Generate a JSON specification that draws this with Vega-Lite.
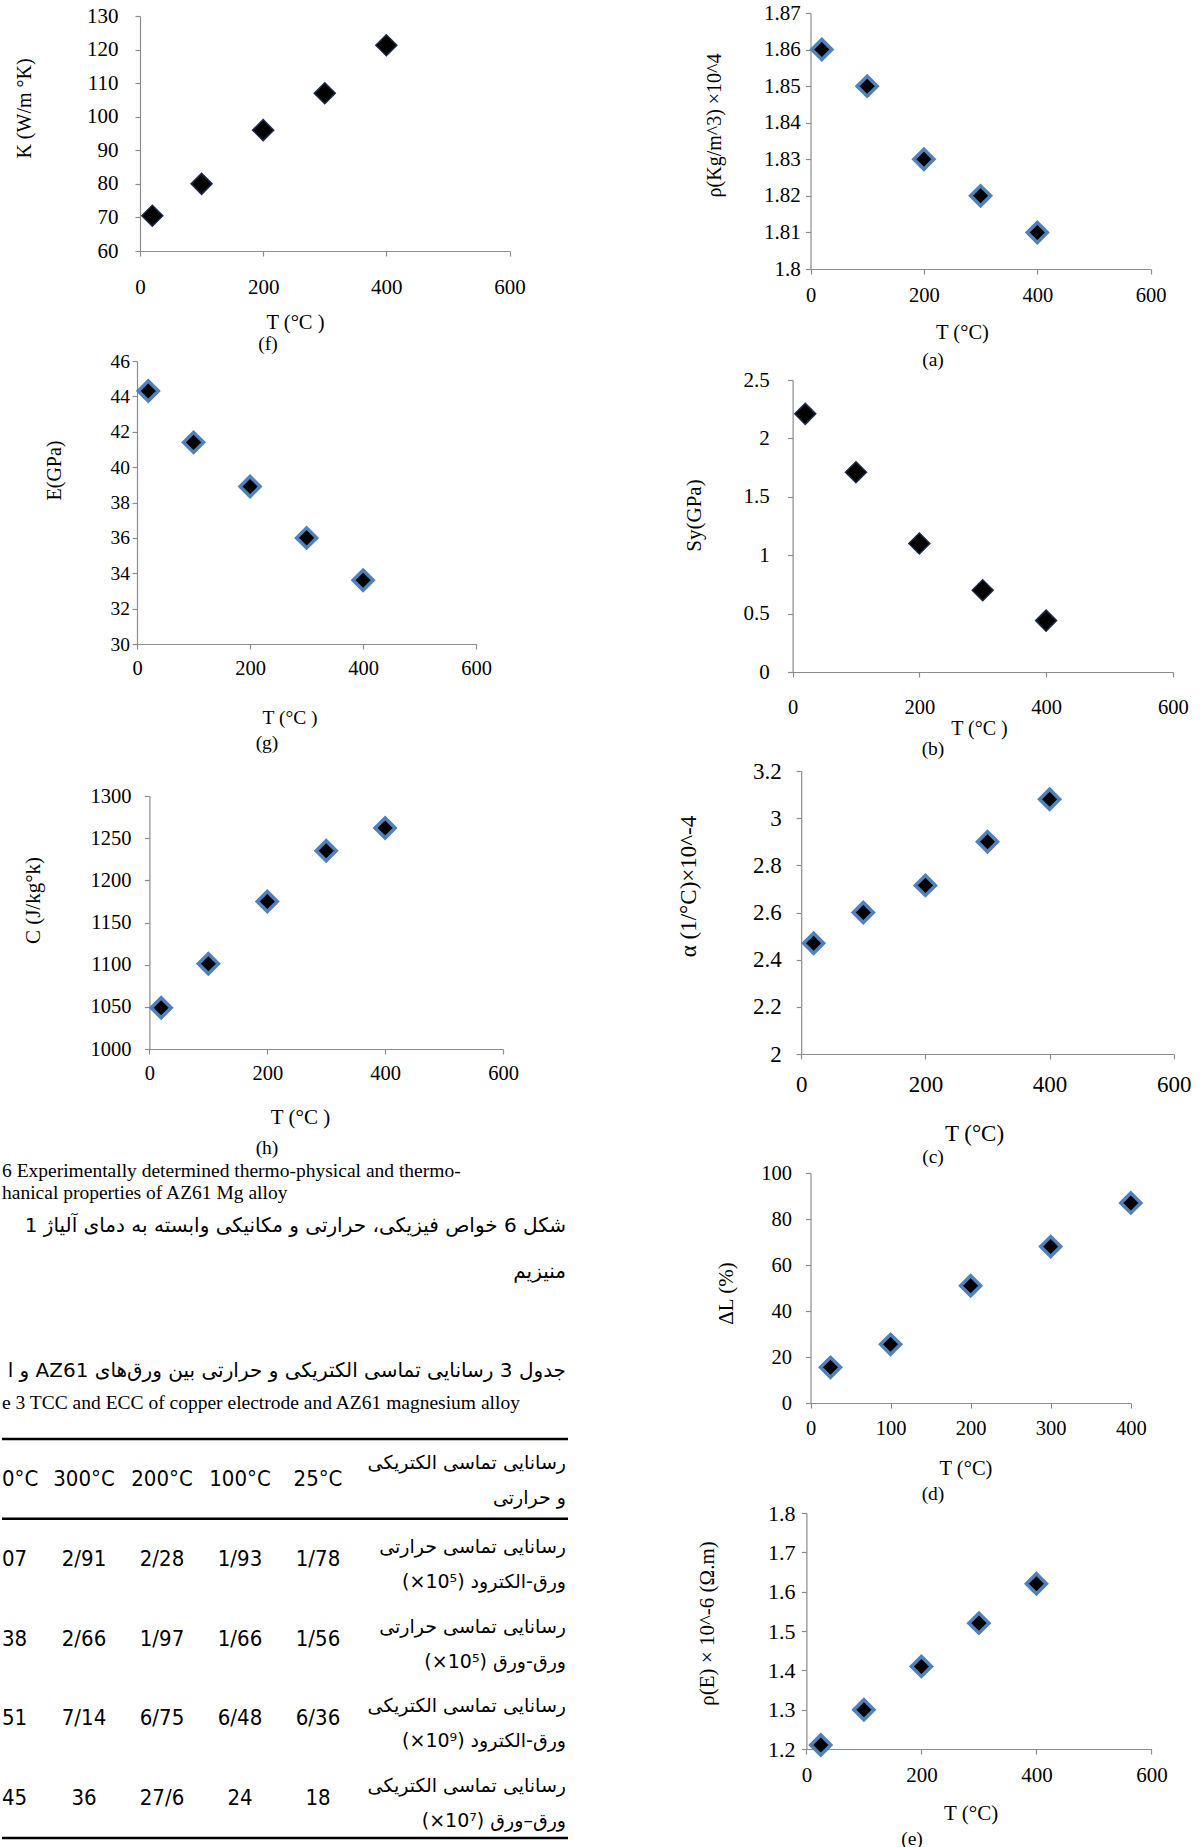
{
"$schema": "https://vega.github.io/schema/vega-lite/v6.json",
"background": "white",
"padding": 0,
"config": {
 "view": {"stroke": null},
 "font": "Liberation Serif",
 "axis": {"grid": false, "domainColor": "#8c8c8c", "tickColor": "#8c8c8c", "domainWidth": 1.2, "tickWidth": 1.2, "tickSize": 5, "labelColor": "#000", "titleColor": "#000", "labelFont": "Liberation Serif", "titleFont": "Liberation Serif", "titleFontWeight": "normal", "labelFlush": false, "labelOverlap": false, "labelBound": false},
 "title": {"font": "Liberation Serif", "fontWeight": "normal", "fontSize": 19.5, "color": "#000"}
},
"datasets": {
 "f": [{"T": 20, "value": 70.5}, {"T": 100, "value": 80}, {"T": 200, "value": 96}, {"T": 300, "value": 107}, {"T": 400, "value": 121.3}],
 "a": [{"T": 20, "value": 1.86}, {"T": 100, "value": 1.85}, {"T": 200, "value": 1.83}, {"T": 300, "value": 1.82}, {"T": 400, "value": 1.81}],
 "g": [{"T": 20, "value": 44.3}, {"T": 100, "value": 41.4}, {"T": 200, "value": 38.9}, {"T": 300, "value": 36.0}, {"T": 400, "value": 33.6}],
 "h": [{"T": 20, "value": 1049}, {"T": 100, "value": 1101}, {"T": 200, "value": 1175}, {"T": 300, "value": 1235}, {"T": 400, "value": 1262}],
 "b": [{"T": 20, "value": 2.21}, {"T": 100, "value": 1.71}, {"T": 200, "value": 1.1}, {"T": 300, "value": 0.7}, {"T": 400, "value": 0.44}],
 "c": [{"T": 20, "value": 2.47}, {"T": 100, "value": 2.6}, {"T": 200, "value": 2.715}, {"T": 300, "value": 2.9}, {"T": 400, "value": 3.08}],
 "d": [{"T": 25, "value": 15.5}, {"T": 100, "value": 25.5}, {"T": 200, "value": 51}, {"T": 300, "value": 68}, {"T": 400, "value": 87}],
 "e": [{"T": 25, "value": 1.21}, {"T": 100, "value": 1.30}, {"T": 200, "value": 1.41}, {"T": 300, "value": 1.52}, {"T": 400, "value": 1.62}],
 "captions": [
  {"lang": "en", "line": 1, "text": "6 Experimentally determined thermo-physical and thermo-"},
  {"lang": "en", "line": 2, "text": "hanical properties of AZ61 Mg alloy"},
  {"lang": "fa", "line": 3, "text": "\u202bشکل 6 خواص فیزیکی، حرارتی و مکانیکی وابسته به دمای آلیاژ 1\u202c"},
  {"lang": "fa", "line": 4, "text": "\u202bمنیزیم\u202c"},
  {"lang": "fa", "line": 5, "text": "\u202bجدول 3 رسانایی تماسی الکتریکی و حرارتی بین ورق‌های AZ61 و الکت\u202c"},
  {"lang": "en", "line": 6, "text": "e 3 TCC and ECC of copper electrode and AZ61 magnesium alloy"}
 ],
 "rules": [{"row": "h", "edge": "start"}, {"row": "r1", "edge": "start"}, {"row": "r4", "edge": "end"}],
 "cells": [
  {"row": "h", "col": "400", "text": "0°C"}, {"row": "h", "col": "300", "text": "300°C"}, {"row": "h", "col": "200", "text": "200°C"}, {"row": "h", "col": "100", "text": "100°C"}, {"row": "h", "col": "25", "text": "25°C"},
  {"row": "r1", "col": "400", "text": "07"}, {"row": "r1", "col": "300", "text": "2/91"}, {"row": "r1", "col": "200", "text": "2/28"}, {"row": "r1", "col": "100", "text": "1/93"}, {"row": "r1", "col": "25", "text": "1/78"},
  {"row": "r2", "col": "400", "text": "38"}, {"row": "r2", "col": "300", "text": "2/66"}, {"row": "r2", "col": "200", "text": "1/97"}, {"row": "r2", "col": "100", "text": "1/66"}, {"row": "r2", "col": "25", "text": "1/56"},
  {"row": "r3", "col": "400", "text": "51"}, {"row": "r3", "col": "300", "text": "7/14"}, {"row": "r3", "col": "200", "text": "6/75"}, {"row": "r3", "col": "100", "text": "6/48"}, {"row": "r3", "col": "25", "text": "6/36"},
  {"row": "r4", "col": "400", "text": "45"}, {"row": "r4", "col": "300", "text": "36"}, {"row": "r4", "col": "200", "text": "27/6"}, {"row": "r4", "col": "100", "text": "24"}, {"row": "r4", "col": "25", "text": "18"}
 ],
 "labels": [
  {"row": "h", "lang": "fa", "text": "\u202bرسانایی تماسی الکتریکی\u202c\n\u202bو حرارتی\u202c"},
  {"row": "r1", "lang": "fa", "text": "\u202bرسانایی تماسی حرارتی\u202c\n\u202bورق-الکترود (10\u2075×)\u202c"},
  {"row": "r2", "lang": "fa", "text": "\u202bرسانایی تماسی حرارتی\u202c\n\u202bورق-ورق (10\u2075×)\u202c"},
  {"row": "r3", "lang": "fa", "text": "\u202bرسانایی تماسی الکتریکی\u202c\n\u202bورق-الکترود (10\u2079×)\u202c"},
  {"row": "r4", "lang": "fa", "text": "\u202bرسانایی تماسی الکتریکی\u202c\n\u202bورق–ورق (10\u2077×)\u202c"}
 ]
},
"spacing": 75,
"hconcat": [
 {
  "bounds": "flush",
  "spacing": 0,
  "vconcat": [
   {"width": 600, "height": 16, "data": {"values": []}, "mark": "point"},
   {"width": 508, "height": 235, "data": {"name": "f"},
    "mark": {"type": "point", "shape": "diamond", "filled": true, "size": 440, "fill": "#000000", "stroke": "#1c2a44", "strokeWidth": 1.5, "opacity": 1},
    "encoding": {
     "x": {"field": "T", "type": "quantitative", "scale": {"domain": [0, 600], "range": [138, 507.5], "nice": false, "zero": false},
      "axis": {"values": [0, 200, 400, 600], "format": "~r", "title": "T (°C )", "titleX": 293, "titleY": 71, "titleAlign": "center", "titleBaseline": "middle", "labelBaseline": "middle", "labelPadding": 31, "labelFontSize": 21, "titleFontSize": 20.5}},
     "y": {"field": "value", "type": "quantitative", "scale": {"domain": [60, 130], "nice": false, "zero": false},
      "axis": {"values": [60, 70, 80, 90, 100, 110, 120, 130], "format": "~r", "offset": -138, "title": "K (W/m °K)", "titleX": -116, "titleY": 92, "titleAlign": "center", "titleBaseline": "middle", "labelPadding": 17, "labelFontSize": 21, "titleFontSize": 20}}
    },
    "title": {"text": "(f)", "orient": "bottom", "anchor": "start", "frame": "group", "align": "center", "baseline": "top", "dx": 266, "offset": 2}
   },
   {"width": 1, "height": 110, "data": {"values": []}, "mark": "point"},
   {"width": 474, "height": 283, "data": {"name": "g"},
    "mark": {"type": "point", "shape": "diamond", "filled": true, "size": 400, "fill": "#000000", "stroke": "#4f81bd", "strokeWidth": 3.5, "opacity": 1},
    "encoding": {
     "x": {"field": "T", "type": "quantitative", "scale": {"domain": [0, 600], "range": [135, 474.2], "nice": false, "zero": false},
      "axis": {"values": [0, 200, 400, 600], "format": "~r", "title": "T (°C )", "titleX": 287.5, "titleY": 73, "titleAlign": "center", "titleBaseline": "middle", "labelBaseline": "middle", "labelPadding": 19, "labelFontSize": 20.5, "titleFontSize": 19.5}},
     "y": {"field": "value", "type": "quantitative", "scale": {"domain": [30, 46], "nice": false, "zero": false},
      "axis": {"values": [30, 32, 34, 36, 38, 40, 42, 44, 46], "format": "~r", "offset": -135, "title": "E(GPa)", "titleX": -82.7, "titleY": 109, "titleAlign": "center", "titleBaseline": "middle", "labelPadding": 2.6, "labelFontSize": 19.5, "titleFontSize": 20}}
    },
    "title": {"text": "(g)", "orient": "bottom", "anchor": "start", "frame": "group", "align": "center", "baseline": "top", "dx": 265, "offset": 7}
   },
   {"width": 1, "height": 152, "data": {"values": []}, "mark": "point"},
   {"width": 501, "height": 253, "data": {"name": "h"},
    "mark": {"type": "point", "shape": "diamond", "filled": true, "size": 400, "fill": "#000000", "stroke": "#4f81bd", "strokeWidth": 3.5, "opacity": 1},
    "encoding": {
     "x": {"field": "T", "type": "quantitative", "scale": {"domain": [0, 600], "range": [147.4, 501], "nice": false, "zero": false},
      "axis": {"values": [0, 200, 400, 600], "format": "~r", "title": "T (°C )", "titleX": 298, "titleY": 68, "titleAlign": "center", "titleBaseline": "middle", "labelBaseline": "middle", "labelPadding": 19, "labelFontSize": 20.5, "titleFontSize": 21}},
     "y": {"field": "value", "type": "quantitative", "scale": {"domain": [1000, 1300], "nice": false, "zero": false},
      "axis": {"values": [1000, 1050, 1100, 1150, 1200, 1250, 1300], "format": "~r", "offset": -147.4, "title": "C (J/kg°k)", "titleX": -115.7, "titleY": 104, "titleAlign": "center", "titleBaseline": "middle", "labelPadding": 13.4, "labelFontSize": 20.5, "titleFontSize": 21}}
    },
    "title": {"text": "(h)", "orient": "bottom", "anchor": "start", "frame": "group", "align": "center", "baseline": "top", "dx": 265, "offset": 12}
   },
   {"width": 1, "height": 111, "data": {"values": []}, "mark": "point"},
   {"width": 566, "height": 687,
    "resolve": {"scale": {"x": "independent", "y": "independent"}},
    "layer": [
     {"data": {"name": "captions"}, "transform": [{"filter": "datum.lang === 'en'"}],
      "mark": {"type": "text", "align": "left", "baseline": "middle", "font": "Liberation Serif", "fontSize": 19.5, "limit": 566, "ellipsis": "\u200b", "color": "#000"},
      "encoding": {
       "x": {"field": "lang", "type": "nominal", "scale": {"domain": ["en", "fa"], "range": [0, 564], "padding": 0}, "axis": null},
       "y": {"field": "line", "type": "quantitative", "scale": {"domain": [1, 2, 3, 4, 5, 6], "range": [11, 33, 66, 112, 211, 243], "nice": false, "zero": false}, "axis": null},
       "text": {"field": "text", "type": "nominal"}
      }},
     {"data": {"name": "captions"}, "transform": [{"filter": "datum.lang === 'fa'"}],
      "mark": {"type": "text", "align": "right", "baseline": "middle", "font": "DejaVu Sans", "fontSize": 20, "limit": 566, "ellipsis": "\u200b", "color": "#000"},
      "encoding": {
       "x": {"field": "lang", "type": "nominal", "scale": {"domain": ["en", "fa"], "range": [0, 564], "padding": 0}, "axis": null},
       "y": {"field": "line", "type": "quantitative", "scale": {"domain": [1, 2, 3, 4, 5, 6], "range": [11, 33, 66, 112, 211, 243], "nice": false, "zero": false}, "axis": null},
       "text": {"field": "text", "type": "nominal"}
      }},
     {"data": {"name": "rules"}, "transform": [{"filter": "datum.edge === 'start'"}],
      "mark": {"type": "rule", "color": "#000", "strokeWidth": 2.5},
      "encoding": {
       "y": {"field": "row", "type": "nominal", "bandPosition": 0, "scale": {"type": "band", "domain": ["h", "r1", "r2", "r3", "r4"], "range": [279, 678], "paddingInner": 0, "paddingOuter": 0}, "axis": null}
      }},
     {"data": {"name": "rules"}, "transform": [{"filter": "datum.edge === 'end'"}],
      "mark": {"type": "rule", "color": "#000", "strokeWidth": 2.5},
      "encoding": {
       "y": {"field": "row", "type": "nominal", "bandPosition": 1, "scale": {"type": "band", "domain": ["h", "r1", "r2", "r3", "r4"], "range": [279, 678], "paddingInner": 0, "paddingOuter": 0}, "axis": null}
      }},
     {"data": {"name": "cells"}, "transform": [{"filter": "datum.col !== '400'"}],
      "mark": {"type": "text", "align": "center", "baseline": "middle", "font": "Liberation Sans Narrow, DejaVu Sans Condensed, Liberation Sans", "fontSize": 22, "color": "#000"},
      "encoding": {
       "x": {"field": "col", "type": "nominal", "scale": {"type": "point", "domain": ["400", "300", "200", "100", "25"], "range": [4, 316], "padding": 0}, "axis": null},
       "y": {"field": "row", "type": "nominal", "scale": {"type": "band", "domain": ["h", "r1", "r2", "r3", "r4"], "range": [279, 678], "paddingInner": 0, "paddingOuter": 0}, "axis": null},
       "text": {"field": "text", "type": "nominal"}
      }},
     {"data": {"name": "cells"}, "transform": [{"filter": "datum.col === '400'"}],
      "mark": {"type": "text", "align": "left", "baseline": "middle", "dx": -4, "font": "Liberation Sans Narrow, DejaVu Sans Condensed, Liberation Sans", "fontSize": 22, "color": "#000"},
      "encoding": {
       "x": {"field": "col", "type": "nominal", "scale": {"type": "point", "domain": ["400", "300", "200", "100", "25"], "range": [4, 316], "padding": 0}, "axis": null},
       "y": {"field": "row", "type": "nominal", "scale": {"type": "band", "domain": ["h", "r1", "r2", "r3", "r4"], "range": [279, 678], "paddingInner": 0, "paddingOuter": 0}, "axis": null},
       "text": {"field": "text", "type": "nominal"}
      }},
     {"data": {"name": "labels"}, "transform": [{"filter": "datum.row === 'h'"}],
      "mark": {"type": "text", "align": "right", "baseline": "middle", "dy": -16, "lineBreak": "\n", "lineHeight": 35, "font": "DejaVu Sans", "fontSize": 19, "color": "#000"},
      "encoding": {
       "x": {"field": "lang", "type": "nominal", "scale": {"domain": ["en", "fa"], "range": [0, 564], "padding": 0}, "axis": null},
       "y": {"field": "row", "type": "nominal", "scale": {"type": "band", "domain": ["h", "r1", "r2", "r3", "r4"], "range": [279, 678], "paddingInner": 0, "paddingOuter": 0}, "axis": null},
       "text": {"field": "text", "type": "nominal"}
      }},
     {"data": {"name": "labels"}, "transform": [{"filter": "datum.row !== 'h'"}],
      "mark": {"type": "text", "align": "right", "baseline": "middle", "dy": -12, "lineBreak": "\n", "lineHeight": 35, "font": "DejaVu Sans", "fontSize": 19, "color": "#000"},
      "encoding": {
       "x": {"field": "lang", "type": "nominal", "scale": {"domain": ["en", "fa"], "range": [0, 564], "padding": 0}, "axis": null},
       "y": {"field": "row", "type": "nominal", "scale": {"type": "band", "domain": ["h", "r1", "r2", "r3", "r4"], "range": [279, 678], "paddingInner": 0, "paddingOuter": 0}, "axis": null},
       "text": {"field": "text", "type": "nominal"}
      }}
    ]
   }
  ]
 },
 {
  "bounds": "flush",
  "spacing": 0,
  "vconcat": [
   {"width": 1, "height": 13, "data": {"values": []}, "mark": "point"},
   {"width": 472, "height": 256, "data": {"name": "a"},
    "mark": {"type": "point", "shape": "diamond", "filled": true, "size": 400, "fill": "#000000", "stroke": "#4f81bd", "strokeWidth": 3.5, "opacity": 1},
    "encoding": {
     "x": {"field": "T", "type": "quantitative", "scale": {"domain": [0, 600], "range": [131.5, 471.7], "nice": false, "zero": false},
      "axis": {"values": [0, 200, 400, 600], "format": "~r", "title": "T (°C)", "titleX": 283, "titleY": 63, "titleAlign": "center", "titleBaseline": "middle", "labelBaseline": "middle", "labelPadding": 21, "labelFontSize": 20.5, "titleFontSize": 20.5}},
     "y": {"field": "value", "type": "quantitative", "scale": {"domain": [1.8, 1.87], "nice": false, "zero": false},
      "axis": {"values": [1.8, 1.81, 1.82, 1.83, 1.84, 1.85, 1.86, 1.87], "format": "~r", "offset": -131.5, "title": "ρ(Kg/m^3) ×10^4", "titleX": -95.7, "titleY": 112, "titleAlign": "center", "titleBaseline": "middle", "labelPadding": 5.3, "labelFontSize": 21, "titleFontSize": 20}}
    },
    "title": {"text": "(a)", "orient": "bottom", "anchor": "start", "frame": "group", "align": "center", "baseline": "top", "dx": 254, "offset": 8}
   },
   {"width": 1, "height": 111, "data": {"values": []}, "mark": "point"},
   {"width": 494, "height": 292, "data": {"name": "b"},
    "mark": {"type": "point", "shape": "diamond", "filled": true, "size": 440, "fill": "#000000", "stroke": "#1c2a44", "strokeWidth": 1.5, "opacity": 1},
    "encoding": {
     "x": {"field": "T", "type": "quantitative", "scale": {"domain": [0, 600], "range": [113.6, 493.8], "nice": false, "zero": false},
      "axis": {"values": [0, 200, 400, 600], "format": "~r", "title": "T (°C )", "titleX": 300, "titleY": 56, "titleAlign": "center", "titleBaseline": "middle", "labelBaseline": "middle", "labelPadding": 30, "labelFontSize": 20.5, "titleFontSize": 20}},
     "y": {"field": "value", "type": "quantitative", "scale": {"domain": [0, 2.5], "nice": false, "zero": false},
      "axis": {"values": [0, 0.5, 1, 1.5, 2, 2.5], "format": "~r", "offset": -113.6, "title": "Sy(GPa)", "titleX": -98.6, "titleY": 135, "titleAlign": "center", "titleBaseline": "middle", "labelPadding": 18.4, "labelFontSize": 21, "titleFontSize": 21}}
    },
    "title": {"text": "(b)", "orient": "bottom", "anchor": "start", "frame": "group", "align": "center", "baseline": "top", "dx": 254, "offset": 2}
   },
   {"width": 1, "height": 99, "data": {"values": []}, "mark": "point"},
   {"width": 495, "height": 283, "data": {"name": "c"},
    "mark": {"type": "point", "shape": "diamond", "filled": true, "size": 400, "fill": "#000000", "stroke": "#4f81bd", "strokeWidth": 3.5, "opacity": 1},
    "encoding": {
     "x": {"field": "T", "type": "quantitative", "scale": {"domain": [0, 600], "range": [122.2, 494.8], "nice": false, "zero": false},
      "axis": {"values": [0, 200, 400, 600], "format": "~r", "title": "T (°C)", "titleX": 295, "titleY": 79, "titleAlign": "center", "titleBaseline": "middle", "labelBaseline": "middle", "labelPadding": 25, "labelFontSize": 23, "titleFontSize": 23}},
     "y": {"field": "value", "type": "quantitative", "scale": {"domain": [2, 3.2], "nice": false, "zero": false},
      "axis": {"values": [2, 2.2, 2.4, 2.6, 2.8, 3, 3.2], "format": "~r", "offset": -122.2, "title": "α (1/°C)×10^-4", "titleX": -112.9, "titleY": 115, "titleAlign": "center", "titleBaseline": "middle", "labelPadding": 15, "labelFontSize": 23, "titleFontSize": 23}}
    },
    "title": {"text": "(c)", "orient": "bottom", "anchor": "start", "frame": "group", "align": "center", "baseline": "top", "dx": 254, "offset": 3}
   },
   {"width": 1, "height": 119, "data": {"values": []}, "mark": "point"},
   {"width": 452, "height": 230, "data": {"name": "d"},
    "mark": {"type": "point", "shape": "diamond", "filled": true, "size": 400, "fill": "#000000", "stroke": "#4f81bd", "strokeWidth": 3.5, "opacity": 1},
    "encoding": {
     "x": {"field": "T", "type": "quantitative", "scale": {"domain": [0, 400], "range": [131.5, 451.8], "nice": false, "zero": false},
      "axis": {"values": [0, 100, 200, 300, 400], "format": "~r", "title": "T (°C)", "titleX": 286.5, "titleY": 65, "titleAlign": "center", "titleBaseline": "middle", "labelBaseline": "middle", "labelPadding": 20, "labelFontSize": 20.5, "titleFontSize": 20.5}},
     "y": {"field": "value", "type": "quantitative", "scale": {"domain": [0, 100], "nice": false, "zero": false},
      "axis": {"values": [0, 20, 40, 60, 80, 100], "format": "~r", "offset": -131.5, "title": "ΔL (%)", "titleX": -83.7, "titleY": 120, "titleAlign": "center", "titleBaseline": "middle", "labelPadding": 13.9, "labelFontSize": 20.5, "titleFontSize": 21}}
    },
    "title": {"text": "(d)", "orient": "bottom", "anchor": "start", "frame": "group", "align": "center", "baseline": "top", "dx": 254, "offset": 6}
   },
   {"width": 1, "height": 110, "data": {"values": []}, "mark": "point"},
   {"width": 473, "height": 236, "data": {"name": "e"},
    "mark": {"type": "point", "shape": "diamond", "filled": true, "size": 400, "fill": "#000000", "stroke": "#4f81bd", "strokeWidth": 3.5, "opacity": 1},
    "encoding": {
     "x": {"field": "T", "type": "quantitative", "scale": {"domain": [0, 600], "range": [127.4, 472.4], "nice": false, "zero": false},
      "axis": {"values": [0, 200, 400, 600], "format": "~r", "title": "T (°C)", "titleX": 291.6, "titleY": 64, "titleAlign": "center", "titleBaseline": "middle", "labelBaseline": "middle", "labelPadding": 21, "labelFontSize": 21, "titleFontSize": 21}},
     "y": {"field": "value", "type": "quantitative", "scale": {"domain": [1.2, 1.8], "nice": false, "zero": false},
      "axis": {"values": [1.2, 1.3, 1.4, 1.5, 1.6, 1.7, 1.8], "format": "~r", "offset": -127.4, "title": "ρ(E) × 10^-6 (Ω.m)", "titleX": -98.5, "titleY": 110, "titleAlign": "center", "titleBaseline": "middle", "labelPadding": 6.4, "labelFontSize": 22, "titleFontSize": 21}}
    },
    "title": {"text": "(e)", "orient": "bottom", "anchor": "start", "frame": "group", "align": "center", "baseline": "top", "dx": 233, "offset": 7}
   }
  ]
 }
]
}
